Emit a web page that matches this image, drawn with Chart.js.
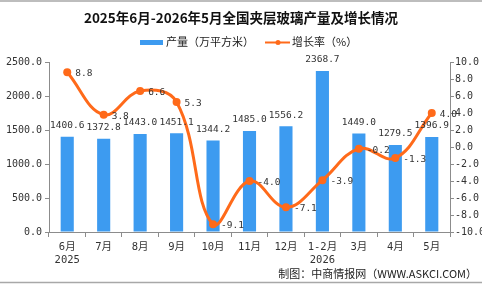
<!DOCTYPE html>
<html>
<head>
<meta charset="utf-8">
<script src="https://cdn.jsdelivr.net/npm/chart.js@4"></script>
<style>
  html, body { margin: 0; padding: 0; background: #fff; }
  #wrap { width: 482px; height: 284px; position: relative; }
</style>
</head>
<body>
<div id="wrap"><canvas id="c" width="482" height="284"></canvas></div>
<script>
// categories / series
const months = [["6月", "2025"], "7月", "8月", "9月", "10月", "11月", "12月", ["1-2月", "2026"], "3月", "4月", "5月"];
const output = [1400.6, 1372.8, 1443.0, 1451.1, 1344.2, 1485.0, 1556.2, 2368.7, 1449.0, 1279.5, 1396.9];
const growth = [8.8, 3.8, 6.6, 5.3, -9.1, -4.0, -7.1, -3.9, -0.2, -1.3, 4.0];

const BLUE = "#3d9bf0";
const ORANGE = "#ff6a1a";
const AXIS = "#8c8c8c";
const TXT = "#333";
const NUM_FONT = "'DejaVu Sans Mono', 'Noto Sans CJK SC', monospace";
const CJK_FONT = "'Noto Sans CJK SC', 'DejaVu Sans', sans-serif";

// title, legend, labels, footer, frame lines
const decor = {
  id: "decor",
  afterDatasetsDraw(chart) {
    const ctx = chart.ctx;
    ctx.save();
    ctx.font = "9.5px " + NUM_FONT;
    ctx.fillStyle = TXT;
    ctx.textAlign = "center";
    ctx.textBaseline = "middle";
    chart.getDatasetMeta(0).data.forEach((b, i) => {
      ctx.fillText(output[i].toFixed(1), b.x, b.y - 11);
    });
    ctx.textAlign = "left";
    chart.getDatasetMeta(1).data.forEach((p, i) => {
      ctx.fillText(growth[i].toFixed(1), p.x + 8, p.y + 1.5);
    });
    ctx.restore();
  },
  afterDraw(chart) {
    const ctx = chart.ctx;
    ctx.save();
    ctx.strokeStyle = "#a8a8a8";
    ctx.lineWidth = 1.5;
    ctx.beginPath();
    ctx.moveTo(0, 1); ctx.lineTo(482, 1);
    ctx.moveTo(0, 282.5); ctx.lineTo(482, 282.5);
    ctx.stroke();
    // title
    ctx.fillStyle = "#111";
    ctx.font = "bold 13.5px " + CJK_FONT;
    ctx.textAlign = "center";
    ctx.textBaseline = "middle";
    ctx.fillText("2025年6月-2026年5月全国夹层玻璃产量及增长情况", 241, 18);
    // legend
    ctx.font = "11px " + CJK_FONT;
    ctx.textAlign = "left";
    ctx.fillStyle = BLUE;
    ctx.fillRect(140, 40, 23, 5);
    ctx.fillStyle = "#222";
    ctx.fillText("产量（万平方米）", 166, 42);
    ctx.strokeStyle = ORANGE;
    ctx.lineWidth = 2;
    ctx.beginPath();
    ctx.moveTo(265, 42.5); ctx.lineTo(290, 42.5);
    ctx.stroke();
    ctx.fillStyle = ORANGE;
    ctx.beginPath();
    ctx.arc(278, 42.5, 2.5, 0, Math.PI * 2);
    ctx.fill();
    ctx.fillStyle = "#222";
    ctx.fillText("增长率（%）", 292, 42);
    // footer
    ctx.textAlign = "right";
    ctx.font = "11px " + CJK_FONT;
    ctx.fillText("制图：中商情报网（WWW.ASKCI.COM）", 477, 274);
    ctx.restore();
  },
};

new Chart(document.getElementById("c"), {
  data: {
    labels: months,
    datasets: [
      {
        type: "bar",
        label: "产量（万平方米）",
        data: output,
        backgroundColor: BLUE,
        yAxisID: "y",
        categoryPercentage: 1,
        barPercentage: 0.36,
        order: 2,
      },
      {
        type: "line",
        label: "增长率（%）",
        data: growth,
        borderColor: ORANGE,
        backgroundColor: ORANGE,
        borderWidth: 3,
        pointRadius: 4,
        pointBackgroundColor: ORANGE,
        pointBorderWidth: 0,
        tension: 0.4,
        yAxisID: "y1",
        order: 1,
      },
    ],
  },
  options: {
    responsive: false,
    animation: false,
    layout: { padding: { top: 62, left: 0, right: 0, bottom: 0 } },
    plugins: { legend: { display: false }, title: { display: false }, tooltip: { enabled: false } },
    scales: {
      x: {
        afterFit: (s) => { s.height = 52; },
        grid: { drawOnChartArea: false, tickLength: 5, color: AXIS, offset: true },
        border: { color: AXIS },
        ticks: { color: TXT, font: { size: 10.5, family: NUM_FONT, lineHeight: 1.25 }, padding: 4, maxRotation: 0, autoSkip: false },
      },
      y: {
        position: "left",
        min: 0, max: 2500,
        afterFit: (s) => { s.width = 49; },
        grid: { drawOnChartArea: false, tickLength: 4, color: AXIS },
        border: { color: AXIS },
        ticks: { stepSize: 500, color: TXT, font: { size: 10, family: NUM_FONT }, padding: 3,
          callback: (v) => v.toFixed(1) },
      },
      y1: {
        position: "right",
        min: -10, max: 10,
        afterFit: (s) => { s.width = 32; },
        grid: { drawOnChartArea: false, tickLength: 4, color: AXIS },
        border: { color: AXIS },
        ticks: { stepSize: 2, color: TXT, font: { size: 10, family: NUM_FONT }, padding: 1,
          callback: (v) => v.toFixed(1) },
      },
    },
  },
  plugins: [decor],
});
</script>
</body>
</html>
